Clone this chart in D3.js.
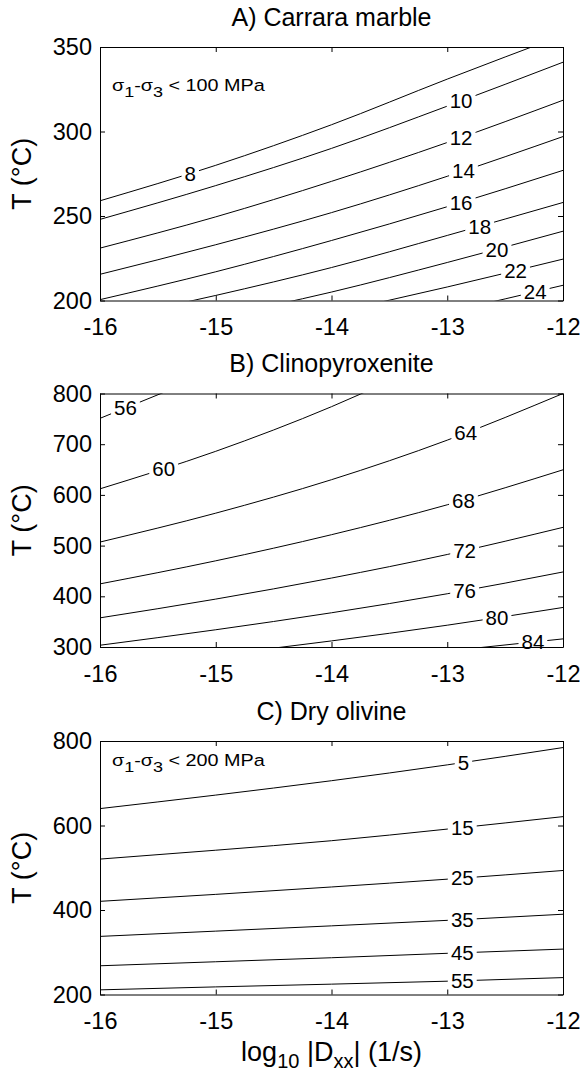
<!DOCTYPE html>
<html>
<head>
<meta charset="utf-8">
<script src="https://cdn.jsdelivr.net/npm/d3@7"></script>
<style>
body { margin: 0; background: #fff; }
text { font-family: "Liberation Sans", Arial, Helvetica, sans-serif; fill: #000; }
</style>
</head>
<body>
<svg id="chart" width="580" height="1078"></svg>
<script>

// strain rate grid (log10 |Dxx|), shared by all three panels
const strainRates = [-16, -15, -14, -13, -12]
const xTicks = [-16, -15, -14, -13, -12]

// A) Carrara marble - temperature (°C) of each contour along strainRates
const marbleLevels = [8, 10, 12, 14, 16, 18, 20, 22, 24]
const marbleT = [
	[259, 280, 304, 331, 357],
	[248, 268, 290, 315, 341],
	[231, 249.5, 270.5, 293.5, 318.5],
	[215.5, 233, 252, 273.5, 297],
	[200.5, 217, 235.5, 255.5, 277],
	[188, 203, 219.5, 238.5, 258],
	[176, 190, 205, 222.5, 241],
	[163, 177, 192.5, 208, 224.5],
	[150, 163, 177.5, 193, 209]
]
const marbleLabelX = [-15.22, -12.88, -12.88, -12.86, -12.88, -12.72, -12.57, -12.41, -12.24]
const marbleTicks = [200, 250, 300, 350]

// B) Clinopyroxenite
const cpxLevels = [56, 60, 64, 68, 72, 76, 80, 84]
const cpxT = [
	[751, 844, null, null, null],
	[612, 686, 774, 879, null],
	[507, 564, 630, 708, 800],
	[424.5, 470, 521.5, 580.5, 649.5],
	[357.5, 394.5, 436, 482.5, 536],
	[303.5, 334, 367.5, 405, 448],
	[null, 284, 312, 343, 378],
	[null, null, null, 292, 316]
]
const cpxLabelX = [-15.78, -15.45, -12.84, -12.86, -12.85, -12.85, -12.57, -12.26]
const cpxTicks = [300, 400, 500, 600, 700, 800]

// C) Dry olivine
const olivineLevels = [5, 15, 25, 35, 45, 55]
const olivineT = [
	[640, 672, 706, 743.5, 784.5],
	[520.5, 541.5, 564, 591.5, 621],
	[420.5, 437, 454.5, 473, 493.5],
	[337.5, 350, 362.5, 375.5, 390],
	[268, 277.5, 287, 297.5, 307.5],
	[211, 218, 224.5, 231.5, 240]
]
const olivineLabelX = [-12.86, -12.87, -12.87, -12.87, -12.87, -12.87]
const olivineTicks = [200, 400, 600, 800]


const svg = d3.select('#chart')
const left = 100, right = 563, plotH = 253.5

const x = d3.scaleLinear().domain([-16, -12]).range([left, right])

const panels = [
	{title: 'A) Carrara marble', top: 47, yDomain: [200, 350], ticks: marbleTicks,
		levels: marbleLevels, temps: marbleT, labelX: marbleLabelX, note: '100'},
	{title: 'B) Clinopyroxenite', top: 393.5, yDomain: [300, 800], ticks: cpxTicks,
		levels: cpxLevels, temps: cpxT, labelX: cpxLabelX, note: null},
	{title: 'C) Dry olivine', top: 741, yDomain: [200, 800], ticks: olivineTicks,
		levels: olivineLevels, temps: olivineT, labelX: olivineLabelX, note: '200'}
]

// y of a drawn path at a given pixel x (paths run left to right)
function yAtX(node, px) {
	let len = node.getTotalLength()
	let lo = 0, hi = len
	for (let i = 0; i < 40; i++) {
		let mid = (lo + hi) / 2
		if (node.getPointAtLength(mid).x < px) lo = mid
		else hi = mid
	}
	return node.getPointAtLength(lo).y
}

panels.forEach((p, pi) => {
	let bottom = p.top + plotH
	let y = d3.scaleLinear().domain(p.yDomain).range([bottom, p.top])

	let g = svg.append('g')

	g.append('clipPath')
		.attr('id', 'clip' + pi)
		.append('rect')
		.attr('x', left).attr('y', p.top)
		.attr('width', right - left).attr('height', plotH)

	// contour lines
	let line = d3.line()
		.defined(d => d[1] != null)
		.x(d => x(d[0]))
		.y(d => y(d[1]))
		.curve(d3.curveMonotoneX)

	let lines = g.append('g').attr('clip-path', 'url(#clip' + pi + ')')
	let labels = g.append('g')

	p.temps.forEach((row, li) => {
		let pts = strainRates.map((s, k) => [s, row[k]])
		let path = lines.append('path')
			.attr('d', line(pts))
			.attr('fill', 'none')
			.attr('stroke', '#000')
			.attr('stroke-width', 1)

		let lx = x(p.labelX[li])
		let ly = yAtX(path.node(), lx)
		let lab = labels.append('g')
		let bg = lab.append('rect').attr('fill', '#fff')
		let t = lab.append('text')
			.attr('x', lx).attr('y', ly)
			.attr('text-anchor', 'middle')
			.attr('dy', '0.36em')
			.attr('font-size', 20.5)
			.text(p.levels[li])
		let bb = t.node().getBBox()
		bg.attr('x', bb.x - 3).attr('y', ly - 8)
			.attr('width', bb.width + 6).attr('height', 16)
	})

	// axes with inward ticks on all four sides
	let xb = g.append('g').attr('transform', 'translate(0,' + bottom + ')')
		.call(d3.axisBottom(x).tickValues(xTicks).tickSize(-5).tickSizeOuter(0).tickPadding(18).tickFormat(d3.format('d')))
	let xt = g.append('g').attr('transform', 'translate(0,' + p.top + ')')
		.call(d3.axisTop(x).tickValues(xTicks).tickSize(-5).tickSizeOuter(0).tickFormat(''))
	let yl = g.append('g').attr('transform', 'translate(' + left + ',0)')
		.call(d3.axisLeft(y).tickValues(p.ticks).tickSize(-5).tickSizeOuter(0).tickPadding(8).tickFormat(d3.format('d')))
	let yr = g.append('g').attr('transform', 'translate(' + right + ',0)')
		.call(d3.axisRight(y).tickValues(p.ticks).tickSize(-5).tickSizeOuter(0).tickFormat(''))

	;[xb, xt, yl, yr].forEach(a => {
		a.attr('font-family', null).attr('font-size', null)
		a.selectAll('path, line').attr('stroke', '#000').attr('stroke-width', 1)
		a.selectAll('text').attr('font-size', 23.5).text(function() { return this.textContent.replace('\u2212', '-') })
	})

	// title
	svg.append('text')
		.attr('x', (left + right) / 2).attr('y', p.top - 21.5)
		.attr('text-anchor', 'middle')
		.attr('font-size', 25)
		.text(p.title)

	// y label
	svg.append('text')
		.attr('transform', 'translate(31,' + (p.top + plotH / 2) + ') rotate(-90)')
		.attr('text-anchor', 'middle')
		.attr('font-size', 27)
		.text('T (\u00b0C)')

	// stress limit note (MATLAB's text is a little wider than Liberation)
	if (p.note) {
		let n = svg.append('text')
			.attr('transform', 'translate(112,' + (p.top + (pi == 0 ? 44.3 : 25.3)) + ') scale(1.2,1)')
			.attr('font-size', 16.5)
		n.append('tspan').text('\u03c3')
		n.append('tspan').attr('dy', 6).attr('font-size', 15).text('1')
		n.append('tspan').attr('dy', -6).text('-\u03c3')
		n.append('tspan').attr('dy', 6).attr('font-size', 15).text('3')
		n.append('tspan').attr('dy', -6).text(' < ' + p.note + ' MPa')
	}
})

// x label under the last panel
let xl = svg.append('text')
	.attr('x', (left + right) / 2).attr('y', 1061)
	.attr('text-anchor', 'middle')
	.attr('font-size', 27)
xl.append('tspan').text('log')
xl.append('tspan').attr('dy', 7).attr('font-size', 20).text('10')
xl.append('tspan').attr('dy', -7).text(' |D')
xl.append('tspan').attr('dy', 7).attr('font-size', 20).text('xx')
xl.append('tspan').attr('dy', -7).text('| (1/s)')

</script>
</body>
</html>
